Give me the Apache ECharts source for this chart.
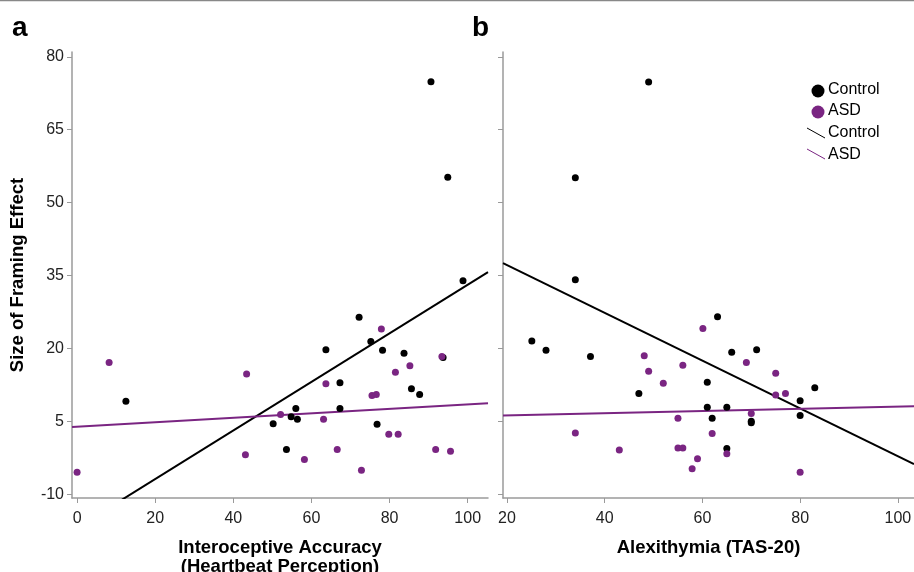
<!DOCTYPE html>
<html>
<head>
<meta charset="utf-8">
<style>
  html, body { margin: 0; padding: 0; background: #fff; }
  #main { width: 914px; height: 572px; }
</style>
<script src="https://cdn.jsdelivr.net/npm/echarts@6/dist/echarts.min.js"></script>
</head>
<body>
<div id="main"></div>
<script>
// panel a: interoceptive accuracy vs framing effect
var ctrlA = [[12.5, 9.1], [50.2, 4.5], [53.6, -0.8], [54.8, 5.9], [56.0, 7.6], [56.4, 5.4],
  [63.7, 19.7], [67.3, 12.9], [67.3, 7.6], [72.2, 26.4], [75.2, 21.4], [76.8, 4.4],
  [78.2, 19.6], [83.7, 19.0], [85.6, 11.7], [87.7, 10.5], [90.6, 74.9], [93.7, 18.1],
  [94.9, 55.2], [98.8, 33.9]];
var asdA = [[0, -5.5], [8.2, 17.1], [43.1, -1.9], [43.4, 14.7], [52.1, 6.4], [58.2, -2.9],
  [63.1, 5.4], [63.7, 12.7], [66.6, -0.8], [72.8, -5.1], [75.5, 10.3], [76.6, 10.5],
  [77.9, 24.0], [79.8, 2.3], [81.5, 15.1], [82.2, 2.3], [85.2, 16.4], [91.8, -0.8],
  [93.4, 18.3], [95.6, -1.2]];
// panel b: alexithymia vs framing effect
var ctrlB = [[25.1, 21.5], [28.0, 19.6], [34.0, 55.1], [34.0, 34.1], [37.1, 18.3],
  [47.0, 10.7], [49.0, 74.8], [61.0, 13.0], [61.0, 7.9], [62.0, 5.6], [63.1, 26.5],
  [65.0, 7.9], [65.0, -0.6], [66.0, 19.2], [70.0, 4.7], [70.0, 5.0], [71.1, 19.7],
  [80.0, 9.2], [80.0, 6.2], [83.0, 11.9]];
var asdB = [[34.0, 2.6], [43.0, -0.9], [48.1, 18.5], [49.0, 15.3], [52.0, 12.8],
  [55.0, 5.6], [55.0, -0.5], [56.0, 16.5], [56.0, -0.5], [57.9, -4.8], [59.0, -2.7],
  [60.1, 24.1], [62.0, 2.5], [65.0, -1.7], [69.0, 17.1], [70.0, 6.6], [75.0, 14.9],
  [75.0, 10.4], [77.0, 10.7], [80.0, -5.5]];
// fitted lines: [intercept, slope]
var fitCtrlA = [-16.9, 0.5];
var fitAsdA = [3.86, 0.046];
var fitCtrlB = [47.0, -0.492];
var fitAsdB = [5.77, 0.0226];

var yTicks = [-10, 5, 20, 35, 50, 65, 80];
var xTicksA = [0, 20, 40, 60, 80, 100];
var xTicksB = [20, 40, 60, 80, 100];

var xRangeA = [-1.3, 105.2];
var xRangeB = [19.2, 103.3];
var yRange = [-10.8, 81.0];

var BLACK = '#000000';
var PURPLE = '#7a2582';
var AXIS = '#9a9a9a';
var FONT = 'Liberation Sans, Arial, sans-serif';

function fitLine(coef, range) {
  return [range[0], range[1]].map(function (x) { return [x, coef[0] + coef[1] * x]; });
}

function xAxis(idx, range, ticks, name) {
  return {
    type: 'value', gridIndex: idx, min: range[0], max: range[1],
    name: name, nameLocation: 'middle', nameGap: 40,
    nameTextStyle: { fontFamily: FONT, fontSize: 18.5, fontWeight: 'bold', color: '#000', lineHeight: 19 },
    axisLine: { onZero: false, lineStyle: { color: AXIS, width: 1.5 } },
    axisTick: { show: true, length: 5, customValues: ticks, lineStyle: { color: AXIS } },
    axisLabel: { customValues: ticks, margin: 13, fontFamily: FONT, fontSize: 16, color: '#222' },
    splitLine: { show: false }
  };
}

function yAxis(idx, showLabels, name) {
  return {
    type: 'value', gridIndex: idx, min: yRange[0], max: yRange[1],
    name: name, nameLocation: 'middle', nameGap: 45,
    nameTextStyle: { fontFamily: FONT, fontSize: 18.5, fontWeight: 'bold', color: '#000' },
    axisLine: { show: true, onZero: false, lineStyle: { color: AXIS, width: 1.5 } },
    axisTick: { show: true, length: 5, customValues: yTicks, lineStyle: { color: AXIS } },
    axisLabel: { show: showLabels, customValues: yTicks, margin: 8, fontFamily: FONT, fontSize: 16, color: '#222' },
    splitLine: { show: false }
  };
}

function dots(name, data, color, idx) {
  return { name: name, type: 'scatter', xAxisIndex: idx, yAxisIndex: idx, data: data,
    symbolSize: 7, itemStyle: { color: color, opacity: 1 }, z: 3 };
}

function line(name, coef, range, color, idx) {
  return { name: name, type: 'line', xAxisIndex: idx, yAxisIndex: idx, data: fitLine(coef, range),
    symbol: 'none', lineStyle: { color: color, width: 2 }, z: 2, silent: true };
}

var chart = echarts.init(document.getElementById('main'));
chart.setOption({
  animation: false,
  backgroundColor: '#fff',
  grid: [
    { left: 72, top: 52, width: 416, height: 446, outerBoundsMode: 'none', containLabel: false },
    { left: 503, top: 52, width: 411, height: 446, outerBoundsMode: 'none', containLabel: false }
  ],
  xAxis: [
    xAxis(0, xRangeA, xTicksA, 'Interoceptive Accuracy\n(Heartbeat Perception)'),
    xAxis(1, xRangeB, xTicksB, 'Alexithymia (TAS-20)')
  ],
  yAxis: [
    yAxis(0, true, 'Size of Framing Effect'),
    yAxis(1, false, '')
  ],
  series: [
    line('Control', fitCtrlA, xRangeA, BLACK, 0),
    line('ASD', fitAsdA, xRangeA, PURPLE, 0),
    dots('Control', ctrlA, BLACK, 0),
    dots('ASD', asdA, PURPLE, 0),
    line('Control', fitCtrlB, xRangeB, BLACK, 1),
    line('ASD', fitAsdB, xRangeB, PURPLE, 1),
    dots('Control', ctrlB, BLACK, 1),
    dots('ASD', asdB, PURPLE, 1)
  ],
  graphic: [
    { type: 'line', shape: { x1: 0, y1: 0.5, x2: 914, y2: 0.5 }, style: { stroke: '#888', lineWidth: 1.5 } },
    { type: 'text', left: 12, top: 14, style: { text: 'a', font: 'bold 28px ' + FONT, fill: '#000' } },
    { type: 'text', left: 472, top: 14, style: { text: 'b', font: 'bold 28px ' + FONT, fill: '#000' } },
    // legend
    { type: 'circle', shape: { cx: 818, cy: 91, r: 6.5 }, style: { fill: BLACK } },
    { type: 'text', left: 828, top: 82, style: { text: 'Control', font: '16px ' + FONT, fill: '#000' } },
    { type: 'circle', shape: { cx: 818, cy: 112, r: 6.5 }, style: { fill: PURPLE } },
    { type: 'text', left: 828, top: 103, style: { text: 'ASD', font: '16px ' + FONT, fill: '#000' } },
    { type: 'line', shape: { x1: 807, y1: 128, x2: 825, y2: 138 }, style: { stroke: BLACK, lineWidth: 1 } },
    { type: 'text', left: 828, top: 125, style: { text: 'Control', font: '16px ' + FONT, fill: '#000' } },
    { type: 'line', shape: { x1: 807, y1: 149, x2: 825, y2: 159 }, style: { stroke: PURPLE, lineWidth: 1 } },
    { type: 'text', left: 828, top: 147, style: { text: 'ASD', font: '16px ' + FONT, fill: '#000' } }
  ]
});
</script>
</body>
</html>
